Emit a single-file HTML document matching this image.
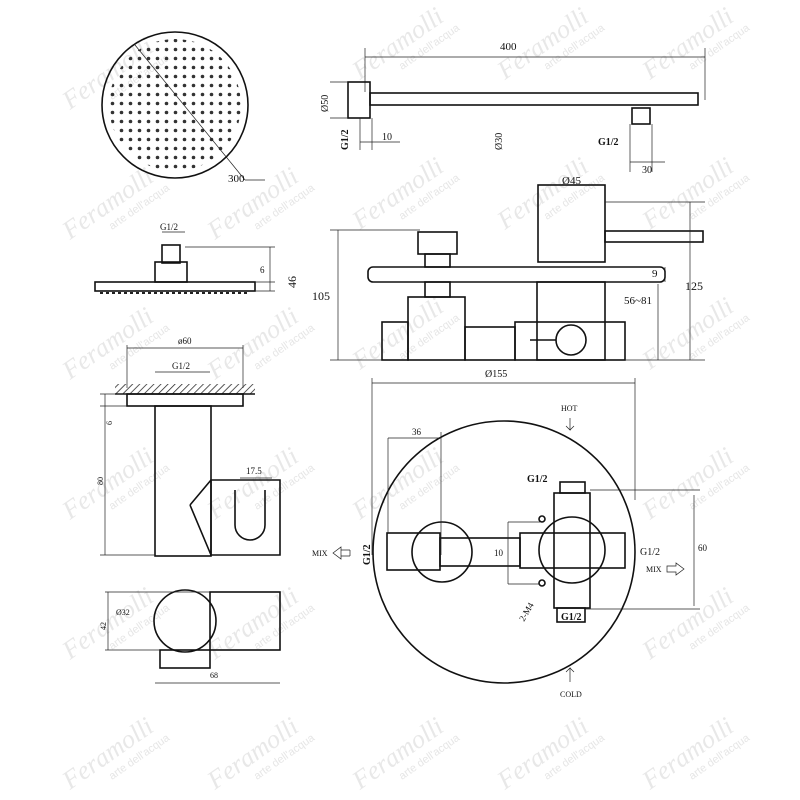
<!DOCTYPE html>
<html><head><meta charset="utf-8"><style>
html,body{margin:0;padding:0;background:#fff;}
svg{display:block;font-family:"Liberation Serif",serif;}
.l{stroke:#111;fill:none;stroke-width:1.6}
.t{stroke:#222;fill:none;stroke-width:0.7}
.w{font-family:"Liberation Serif",serif;font-style:italic;fill:#e8e8e8;font-size:26px}
.ws{font-family:"Liberation Sans",sans-serif;fill:#e6e6e6;font-size:11px}
text{fill:#111}
</style></head><body>
<svg width="800" height="800" viewBox="0 0 800 800">
<defs>
<pattern id="dots" x="0" y="0" width="9" height="9" patternUnits="userSpaceOnUse"><circle cx="4.5" cy="4.5" r="1.8" fill="#333"/></pattern>
<pattern id="hatch" width="5" height="5" patternUnits="userSpaceOnUse" patternTransform="rotate(45)"><line x1="0" y1="0" x2="0" y2="5" stroke="#222" stroke-width="1.5"/></pattern>
<clipPath id="cc"><circle cx="175" cy="105" r="66"/></clipPath>
</defs>

<g>
<g transform="translate(70,110) rotate(-35)"><text class="w">Feramolli</text><text class="ws" x="40" y="16">arte dell'acqua</text></g>
<g transform="translate(360,80) rotate(-35)"><text class="w">Feramolli</text><text class="ws" x="40" y="16">arte dell'acqua</text></g>
<g transform="translate(505,80) rotate(-35)"><text class="w">Feramolli</text><text class="ws" x="40" y="16">arte dell'acqua</text></g>
<g transform="translate(650,80) rotate(-35)"><text class="w">Feramolli</text><text class="ws" x="40" y="16">arte dell'acqua</text></g>
<g transform="translate(70,240) rotate(-35)"><text class="w">Feramolli</text><text class="ws" x="40" y="16">arte dell'acqua</text></g>
<g transform="translate(215,240) rotate(-35)"><text class="w">Feramolli</text><text class="ws" x="40" y="16">arte dell'acqua</text></g>
<g transform="translate(360,230) rotate(-35)"><text class="w">Feramolli</text><text class="ws" x="40" y="16">arte dell'acqua</text></g>
<g transform="translate(505,230) rotate(-35)"><text class="w">Feramolli</text><text class="ws" x="40" y="16">arte dell'acqua</text></g>
<g transform="translate(650,230) rotate(-35)"><text class="w">Feramolli</text><text class="ws" x="40" y="16">arte dell'acqua</text></g>
<g transform="translate(70,380) rotate(-35)"><text class="w">Feramolli</text><text class="ws" x="40" y="16">arte dell'acqua</text></g>
<g transform="translate(215,380) rotate(-35)"><text class="w">Feramolli</text><text class="ws" x="40" y="16">arte dell'acqua</text></g>
<g transform="translate(360,370) rotate(-35)"><text class="w">Feramolli</text><text class="ws" x="40" y="16">arte dell'acqua</text></g>
<g transform="translate(650,370) rotate(-35)"><text class="w">Feramolli</text><text class="ws" x="40" y="16">arte dell'acqua</text></g>
<g transform="translate(70,520) rotate(-35)"><text class="w">Feramolli</text><text class="ws" x="40" y="16">arte dell'acqua</text></g>
<g transform="translate(215,520) rotate(-35)"><text class="w">Feramolli</text><text class="ws" x="40" y="16">arte dell'acqua</text></g>
<g transform="translate(360,520) rotate(-35)"><text class="w">Feramolli</text><text class="ws" x="40" y="16">arte dell'acqua</text></g>
<g transform="translate(650,520) rotate(-35)"><text class="w">Feramolli</text><text class="ws" x="40" y="16">arte dell'acqua</text></g>
<g transform="translate(70,660) rotate(-35)"><text class="w">Feramolli</text><text class="ws" x="40" y="16">arte dell'acqua</text></g>
<g transform="translate(215,660) rotate(-35)"><text class="w">Feramolli</text><text class="ws" x="40" y="16">arte dell'acqua</text></g>
<g transform="translate(650,660) rotate(-35)"><text class="w">Feramolli</text><text class="ws" x="40" y="16">arte dell'acqua</text></g>
<g transform="translate(70,790) rotate(-35)"><text class="w">Feramolli</text><text class="ws" x="40" y="16">arte dell'acqua</text></g>
<g transform="translate(215,790) rotate(-35)"><text class="w">Feramolli</text><text class="ws" x="40" y="16">arte dell'acqua</text></g>
<g transform="translate(360,790) rotate(-35)"><text class="w">Feramolli</text><text class="ws" x="40" y="16">arte dell'acqua</text></g>
<g transform="translate(505,790) rotate(-35)"><text class="w">Feramolli</text><text class="ws" x="40" y="16">arte dell'acqua</text></g>
<g transform="translate(650,790) rotate(-35)"><text class="w">Feramolli</text><text class="ws" x="40" y="16">arte dell'acqua</text></g>
</g>

<!-- shower head top -->
<circle cx="175" cy="105" r="73" class="l" stroke-width="2"/>
<rect x="100" y="30" width="150" height="150" fill="url(#dots)" clip-path="url(#cc)"/>
<line x1="135" y1="45" x2="245" y2="180" class="t" stroke-width="1"/>
<line x1="245" y1="180" x2="265" y2="180" class="t"/>
<text x="228" y="182" font-size="11">300</text>

<!-- shower arm -->
<line x1="365" y1="57" x2="705" y2="57" class="t"/>
<line x1="365" y1="48" x2="365" y2="92" class="t"/><line x1="705" y1="48" x2="705" y2="100" class="t"/>
<text x="500" y="50" font-size="11">400</text>
<rect x="348" y="82" width="22" height="36" class="l" fill="#fff"/>
<line x1="330" y1="82" x2="348" y2="82" class="t"/><line x1="330" y1="118" x2="348" y2="118" class="t"/>
<rect x="370" y="93" width="328" height="12" class="l"/>
<rect x="632" y="108" width="18" height="16" class="l"/>
<line x1="360" y1="118" x2="360" y2="150" class="t"/><line x1="372" y1="118" x2="372" y2="150" class="t"/>
<line x1="360" y1="142" x2="400" y2="142" class="t"/>
<text x="382" y="140" font-size="10">10</text>
<text transform="translate(328,112) rotate(-90)" font-size="10">Ø50</text>
<text transform="translate(348,150) rotate(-90)" font-size="10" font-weight="bold">G1/2</text>
<text transform="translate(502,150) rotate(-90)" font-size="10">Ø30</text>
<text x="598" y="145" font-size="10" font-weight="bold">G1/2</text>
<line x1="630" y1="124" x2="630" y2="172" class="t"/><line x1="652" y1="124" x2="652" y2="172" class="t"/>
<line x1="630" y1="162" x2="665" y2="162" class="t"/>
<text x="642" y="173" font-size="10">30</text>

<!-- shower head side -->
<text x="160" y="230" font-size="9">G1/2</text>
<line x1="162" y1="232" x2="185" y2="232" class="t"/>
<rect x="162" y="245" width="18" height="18" class="l"/>
<rect x="155" y="262" width="32" height="20" class="l"/>
<rect x="95" y="282" width="160" height="9" class="l" fill="#fff"/>
<line x1="100" y1="293" x2="250" y2="293" stroke="#222" stroke-width="2" stroke-dasharray="3,3"/>
<line x1="185" y1="247" x2="275" y2="247" class="t"/><line x1="255" y1="282" x2="275" y2="282" class="t"/><line x1="255" y1="291" x2="275" y2="291" class="t"/>
<line x1="270" y1="247" x2="270" y2="291" class="t"/>
<text x="260" y="273" font-size="9">6</text>
<text transform="translate(296,288) rotate(-90)" font-size="12">46</text>

<!-- valve side -->
<line x1="330" y1="230" x2="420" y2="230" class="t"/><line x1="330" y1="360" x2="408" y2="360" class="t"/>
<line x1="338" y1="230" x2="338" y2="360" class="t"/>
<text x="312" y="300" font-size="12">105</text>
<rect x="418" y="232" width="39" height="22" class="l" fill="#fff"/>
<rect x="425" y="254" width="25" height="13" class="l"/>
<rect x="425" y="282" width="25" height="15" class="l"/>
<rect x="538" y="185" width="67" height="77" class="l" fill="#fff"/>
<rect x="605" y="231" width="98" height="11" class="l"/>
<text x="562" y="184" font-size="11">Ø45</text>
<rect x="368" y="267" width="297" height="15" rx="5" class="l" fill="#fff"/>
<rect x="408" y="297" width="57" height="63" class="l"/>
<rect x="382" y="322" width="26" height="38" class="l"/>
<rect x="465" y="327" width="50" height="33" class="l"/>
<rect x="515" y="322" width="110" height="38" class="l"/>
<rect x="537" y="282" width="68" height="78" class="l"/>
<circle cx="571" cy="340" r="15" class="l" fill="#fff"/>
<line x1="530" y1="340" x2="556" y2="340" class="l"/>
<line x1="605" y1="202" x2="705" y2="202" class="t"/><line x1="625" y1="360" x2="705" y2="360" class="t"/>
<line x1="690" y1="202" x2="690" y2="360" class="t"/>
<text x="685" y="290" font-size="12">125</text>
<line x1="665" y1="267" x2="665" y2="282" class="t"/>
<text x="652" y="277" font-size="11">9</text>
<line x1="658" y1="284" x2="658" y2="360" class="t"/>
<text x="624" y="304" font-size="11">56~81</text>

<!-- wall bracket -->
<line x1="127" y1="345" x2="127" y2="388" class="t"/><line x1="243" y1="345" x2="243" y2="388" class="t"/>
<line x1="127" y1="348" x2="243" y2="348" class="t"/>
<text x="178" y="344" font-size="9">ø60</text>
<line x1="155" y1="372" x2="210" y2="372" class="t"/>
<text x="172" y="369" font-size="9">G1/2</text>
<rect x="115" y="384" width="140" height="10" fill="url(#hatch)"/>
<line x1="115" y1="394" x2="255" y2="394" class="l"/>
<rect x="127" y="394" width="116" height="12" class="l"/>
<rect x="155" y="406" width="56" height="150" class="l"/>
<path d="M211 480 H280 V555 H211 Z M190 505 L211 480 M190 505 L211 555" class="l"/>
<path d="M235 490 V525 A12 12 0 0 0 265 525 V490" class="l"/>
<line x1="240" y1="478" x2="272" y2="478" class="t"/>
<text x="246" y="474" font-size="9">17.5</text>
<line x1="105" y1="394" x2="105" y2="555" class="t"/>
<line x1="100" y1="394" x2="127" y2="394" class="t"/><line x1="100" y1="406" x2="127" y2="406" class="t"/><line x1="100" y1="555" x2="155" y2="555" class="t"/>
<text transform="translate(112,425) rotate(-90)" font-size="8">6</text>
<text transform="translate(103,485) rotate(-90)" font-size="8">80</text>

<!-- bracket top -->
<rect x="210" y="592" width="70" height="58" class="l"/>
<circle cx="185" cy="621" r="31" class="l" fill="#fff"/>
<rect x="160" y="650" width="50" height="18" class="l" fill="#eee"/>
<line x1="105" y1="592" x2="210" y2="592" class="t"/><line x1="105" y1="650" x2="160" y2="650" class="t"/>
<line x1="108" y1="592" x2="108" y2="650" class="t"/>
<text transform="translate(106,630) rotate(-90)" font-size="8">42</text>
<text x="116" y="615" font-size="8">Ø32</text>
<line x1="155" y1="683" x2="280" y2="683" class="t"/>
<text x="210" y="678" font-size="8">68</text>

<!-- big circle front -->
<line x1="372" y1="383" x2="635" y2="383" class="t"/>
<line x1="372" y1="378" x2="372" y2="555" class="t"/><line x1="635" y1="378" x2="635" y2="500" class="t"/>
<text x="485" y="377" font-size="10">Ø155</text>
<circle cx="504" cy="552" r="131" class="l" stroke-width="2"/>
<rect x="387" y="533" width="53" height="37" class="l"/>
<rect x="440" y="538" width="80" height="28" class="l"/>
<rect x="520" y="533" width="105" height="35" class="l"/>
<rect x="554" y="493" width="36" height="115" class="l"/>
<circle cx="442" cy="552" r="30" class="l" fill="#fff"/>
<circle cx="572" cy="550" r="33" class="l" fill="#fff"/>
<rect x="560" y="482" width="25" height="11" class="l"/>
<rect x="557" y="608" width="28" height="14" class="l"/>
<circle cx="542" cy="519" r="3" class="l"/><circle cx="542" cy="583" r="3" class="l"/>
<line x1="388" y1="438" x2="441" y2="438" class="t"/><line x1="441" y1="432" x2="441" y2="555" class="t"/><line x1="388" y1="438" x2="388" y2="533" class="t"/>
<text x="412" y="435" font-size="9">36</text>
<line x1="508" y1="522" x2="540" y2="522" class="t"/><line x1="508" y1="522" x2="508" y2="584" class="t"/><line x1="508" y1="584" x2="540" y2="584" class="t"/>
<text x="494" y="556" font-size="9">10</text>
<line x1="590" y1="490" x2="700" y2="490" class="t"/><line x1="585" y1="609" x2="700" y2="609" class="t"/>
<line x1="694" y1="495" x2="694" y2="606" class="t"/>
<text x="698" y="551" font-size="9">60</text>
<text x="561" y="411" font-size="8">HOT</text>
<path d="M570 418 V430 L566 426 M570 430 L574 426" class="t"/>
<text x="560" y="697" font-size="8">COLD</text>
<path d="M570 682 V668 L566 672 M570 668 L574 672" class="t"/>
<text x="312" y="556" font-size="8">MIX</text>
<path d="M333 553 L341 547 V559 Z M341 550 H350 M341 556 H350 M350 550 V556" class="t"/>
<text x="646" y="572" font-size="8">MIX</text>
<path d="M667 566 H676 V563 L684 569 L676 575 V572 H667 Z" class="t"/>
<text x="527" y="482" font-size="10" font-weight="bold">G1/2</text>
<text x="640" y="555" font-size="10">G1/2</text>
<text transform="translate(370,565) rotate(-90)" font-size="10" font-weight="bold">G1/2</text>
<text transform="translate(524,622) rotate(-60)" font-size="9">2-M4</text>
<text x="561" y="620" font-size="10" font-weight="bold">G1/2</text>
</svg>
</body></html>
